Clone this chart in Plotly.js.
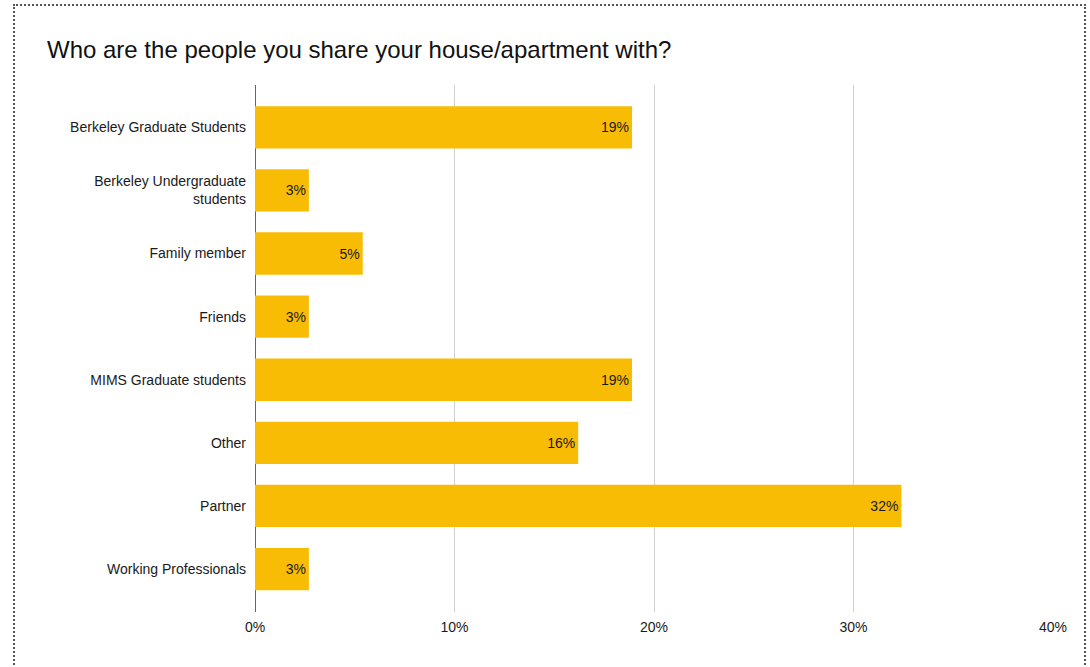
<!DOCTYPE html>
<html>
<head>
<meta charset="utf-8">
<script src="https://cdn.plot.ly/plotly-3.0.1.min.js"></script>
<style>
  html, body { margin: 0; padding: 0; background: #fff; }
  #frame { position: absolute; left: 13px; top: 4px; width: 1073px; height: 680px;
           border: 2px dotted #555; box-sizing: border-box; pointer-events: none; z-index: 5; }
  #chart { width: 1090px; height: 667px; }
</style>
</head>
<body>
<div id="frame"></div>
<div id="chart"></div>
<script>
const categories = [
  "Berkeley Graduate Students",
  "Berkeley Undergraduate<br>students",
  "Family member",
  "Friends",
  "MIMS Graduate students",
  "Other",
  "Partner",
  "Working Professionals"
];
const shares = [18.9, 2.7, 5.4, 2.7, 18.9, 16.2, 32.4, 2.7];
const tickValues = [0, 10, 20, 30, 40];
const tickLabels = ["0%", "10%", "20%", "30%", "40%"];

const labels = shares.map(v => Math.round(v) + "%");

const trace = {
  type: "bar",
  orientation: "h",
  x: shares,
  y: categories,
  text: labels,
  textposition: "inside",
  insidetextanchor: "end",
  textangle: 0,
  textfont: { family: "Liberation Sans, Arial, sans-serif", size: 14, color: "#1a1a1a" },
  marker: { color: "#F9BC05", line: { width: 0 } },
  hoverinfo: "none",
  cliponaxis: false
};

const layout = {
  width: 1090,
  height: 667,
  paper_bgcolor: "#fff",
  plot_bgcolor: "#fff",
  margin: { l: 255, r: 37, t: 85, b: 55 },
  font: { family: "Liberation Sans, Arial, sans-serif", color: "#1a1a1a" },
  title: {
    text: "Who are the people you share your house/apartment with?",
    font: { size: 24, color: "#111", family: "Liberation Sans, Arial, sans-serif" },
    xref: "container", yref: "container",
    x: 47 / 1090, xanchor: "left",
    y: 1 - 50 / 667, yanchor: "middle"
  },
  bargap: 0.33,
  showlegend: false,
  xaxis: {
    range: [0, 40],
    tickvals: tickValues,
    ticktext: tickLabels,
    showgrid: true,
    gridcolor: "#d0d0d0",
    gridwidth: 1,
    zeroline: true,
    zerolinecolor: "#666",
    zerolinewidth: 1,
    showline: false,
    ticks: "",
    ticklabelstandoff: 5,
    tickfont: { size: 14, color: "#1a1a1a" },
    fixedrange: true
  },
  yaxis: {
    type: "category",
    categoryorder: "array",
    categoryarray: categories,
    range: [7.68, -0.67],
    showgrid: false,
    zeroline: false,
    showline: false,
    ticks: "",
    ticklabelstandoff: 8,
    tickfont: { size: 14, color: "#1a1a1a" },
    fixedrange: true
  }
};

Plotly.newPlot("chart", [trace], layout, { displayModeBar: false, staticPlot: true });
</script>
</body>
</html>
